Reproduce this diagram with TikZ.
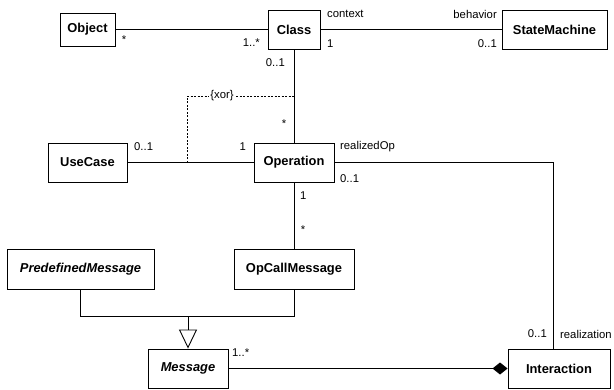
\documentclass[tikz,border=0pt]{standalone}
\usepackage{fontspec}
\setmainfont{Liberation Sans}
\usetikzlibrary{arrows.meta}
\begin{document}
\begin{tikzpicture}[x=1pt,y=-1pt,
  cls/.style={draw, line width=0.9pt, fill=white, inner sep=0pt, font=\fontsize{12.9}{15}\selectfont\bfseries},
  lbl/.style={inner sep=0pt, font=\fontsize{11.3}{13}\selectfont},
  assoc/.style={line width=0.9pt}]
\useasboundingbox (0,0) rectangle (614,389);
\node[cls, minimum width=55pt, minimum height=33pt] (obj) at (87.5,29.5) {Object};
\node[cls, minimum width=52pt, minimum height=39pt] (cls) at (294,29.5) {Class};
\node[cls, minimum width=105pt, minimum height=39pt] (sm) at (554.5,29.5) {StateMachine};
\node[cls, minimum width=79pt, minimum height=39pt] (uc) at (87.5,162.5) {UseCase};
\node[cls, minimum width=80pt, minimum height=39pt] (op) at (294,162.5) {Operation};
\node[cls, minimum width=147pt, minimum height=40pt] (pm) at (80.5,269) {\itshape PredefinedMessage};
\node[cls, minimum width=120pt, minimum height=40pt] (ocm) at (294,269) {OpCallMessage};
\node[cls, minimum width=80pt, minimum height=39pt] (msg) at (188,368.5) {\itshape Message};
\node[cls, minimum width=102pt, minimum height=39pt] (int) at (559,368.5) {Interaction};

\draw[assoc] (obj.east) -- (cls.west);
\draw[assoc] (cls.east) -- (sm.west);
\draw[assoc] (cls.south) -- (op.north);
\draw[assoc] (uc.east) -- (op.west);
\draw[assoc] (op.south) -- (ocm.north);
\coordinate (intTop) at ([xshift=-6pt]int.north);
\draw[assoc] (op.east) -| (intTop);

\coordinate (gen) at (188,316);
\draw[assoc] (pm.south) |- (gen);
\draw[assoc] (ocm.south) |- (gen);
\draw[assoc, -{Triangle[open, length=19pt, width=18pt, fill=white, line width=0.9pt]}] (gen) -- (msg.north);
\draw[assoc, -{Diamond[length=15pt, width=12pt]}] (msg.east) -- (int.west);

\coordinate (x1) at (187,162.5);
\coordinate (x2) at (187,96);
\coordinate (x3) at (294,96);
\draw[line width=0.8pt, dash pattern=on 2pt off 1.5pt] (x1) -- (x2) -- (x3);
\node[lbl, fill=white, inner xsep=1pt] (xor) at (222,96) {\{xor\}};

\node[lbl] (l1) at (124,40) {*};
\node[lbl, anchor=east] (l2) at (260,43) {1..*};
\node[lbl, anchor=east] (l3) at (285,63) {0..1};
\node[lbl, anchor=west] (l4) at (327,14) {context};
\node[lbl, anchor=west] (l5) at (327,44) {1};
\node[lbl, anchor=east] (l6) at (497,14) {behavior};
\node[lbl, anchor=east] (l7) at (497,44) {0..1};
\node[lbl] (l8) at (284,124) {*};
\node[lbl, anchor=west] (l9) at (134,147) {0..1};
\node[lbl, anchor=east] (l10) at (246,147) {1};
\node[lbl, anchor=west] (l11) at (340,147) {realizedOp};
\node[lbl, anchor=west] (l12) at (340,179) {0..1};
\node[lbl, anchor=west] (l13) at (300,196) {1};
\node[lbl] (l14) at (303,230) {*};
\node[lbl, anchor=west] (l15) at (232,353) {1..*};
\node[lbl, anchor=east] (l16) at (547,334) {0..1};
\node[lbl, anchor=west] (l17) at (560,334) {realization};
\end{tikzpicture}
\end{document}
